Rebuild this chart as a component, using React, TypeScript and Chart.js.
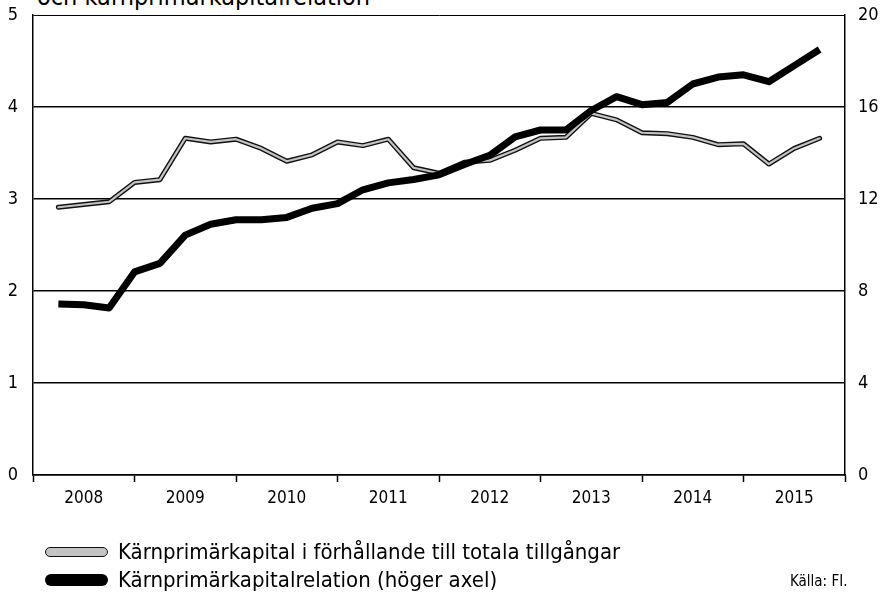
import React, { useEffect, useRef } from "react";
import { Chart, registerables } from "chart.js";

Chart.register(...registerables);

const years = ["2008", "2009", "2010", "2011", "2012", "2013", "2014", "2015"];
const leftTicks = [0, 1, 2, 3, 4, 5];
const rightTicks = [0, 4, 8, 12, 16, 20];

// Quarterly, 2008 Q1 – 2015 Q3
const leverageRatio = [
  2.91, 2.94, 2.97, 3.18, 3.21, 3.66, 3.62, 3.65, 3.55, 3.41, 3.48, 3.62, 3.58, 3.65, 3.34, 3.28,
  3.4, 3.42, 3.53, 3.66, 3.67, 3.93, 3.86, 3.72, 3.71, 3.67, 3.59, 3.6, 3.38, 3.55, 3.66,
];
const cet1Ratio = [
  7.43, 7.4, 7.26, 8.83, 9.2, 10.43, 10.9, 11.1, 11.1, 11.2, 11.6, 11.8, 12.4, 12.7, 12.85, 13.05,
  13.5, 13.9, 14.7, 15.0, 15.0, 15.85, 16.45, 16.1, 16.2, 17.0, 17.3, 17.4, 17.1, 17.8, 18.5,
];

const seriesNames = [
  "Kärnprimärkapital i förhållande till totala tillgångar",
  "Kärnprimärkapitalrelation (höger axel)",
];
const titleText = "och kärnprimärkapitalrelation";
const sourceText = "Källa: FI.";

const FONT = "'DejaVu Sans Condensed', 'Liberation Sans Narrow', 'DejaVu Sans', sans-serif";

const zeroPad = (s: any) => {
  s.paddingTop = 0;
  s.paddingBottom = 0;
  s.paddingLeft = 0;
  s.paddingRight = 0;
};

export default function App() {
  const ref = useRef<HTMLCanvasElement>(null);

  useEffect(() => {
    if (!ref.current) return;
    const toXY = (arr: number[]) => arr.map((v, i) => ({ x: i + 1, y: v }));
    const chart = new Chart(ref.current, {
      type: "line",
      data: {
        datasets: [
          {
            label: seriesNames[0] + " outline",
            data: toXY(leverageRatio),
            yAxisID: "y",
            borderColor: "#111",
            borderWidth: 5,
            pointRadius: 0,
            tension: 0,
            borderJoinStyle: "round",
            borderCapStyle: "round",
            order: 3,
          },
          {
            label: seriesNames[0],
            data: toXY(leverageRatio),
            yAxisID: "y",
            borderColor: "#c4c4c4",
            borderWidth: 2.2,
            pointRadius: 0,
            tension: 0,
            borderJoinStyle: "round",
            borderCapStyle: "round",
            order: 2,
          },
          {
            label: seriesNames[1],
            data: toXY(cet1Ratio),
            yAxisID: "y1",
            borderColor: "#000",
            borderWidth: 7,
            pointRadius: 0,
            tension: 0,
            borderJoinStyle: "round",
            borderCapStyle: "butt",
            order: 1,
          },
        ],
      },
      options: {
        responsive: false,
        animation: false,
        layout: { padding: { top: 15, left: 0, right: 0, bottom: 0 } },
        plugins: { legend: { display: false }, tooltip: { enabled: false } },
        scales: {
          x: {
            type: "linear",
            min: 0,
            max: years.length * 4,
            afterFit: (s: any) => {
              s.height = 126;
              zeroPad(s);
            },
            afterBuildTicks: (s: any) => {
              const t = [];
              for (let v = 0; v <= years.length * 4; v += 2) t.push({ value: v });
              s.ticks = t;
            },
            ticks: {
              autoSkip: false,
              maxRotation: 0,
              padding: 6,
              color: "#000",
              font: { family: FONT, size: 17 },
              callback: (v: any) => {
                const n = Number(v);
                return n % 4 === 2 ? years[(n - 2) / 4] : "";
              },
            },
            grid: {
              drawOnChartArea: false,
              tickLength: 7,
              tickWidth: 1.5,
              tickColor: (ctx: any) => (ctx.tick && ctx.tick.value % 4 === 0 ? "#000" : "rgba(0,0,0,0)"),
            },
            border: { display: true, color: "#000", width: 1.5 },
          },
          y: {
            position: "left",
            min: 0,
            max: 5,
            afterFit: (s: any) => {
              s.width = 33;
              zeroPad(s);
            },
            afterBuildTicks: (s: any) => {
              s.ticks = leftTicks.map((v) => ({ value: v }));
            },
            ticks: {
              padding: 15,
              color: "#000",
              font: { family: FONT, size: 18 },
            },
            grid: {
              color: "#000",
              lineWidth: (ctx: any) => (ctx.tick && ctx.tick.value === 5 ? 1 : 1.5),
              drawTicks: false,
            },
            border: { display: true, color: "#000", width: 1.5 },
          },
          y1: {
            position: "right",
            min: 0,
            max: 20,
            afterFit: (s: any) => {
              s.width = 42;
              zeroPad(s);
            },
            afterBuildTicks: (s: any) => {
              s.ticks = rightTicks.map((v) => ({ value: v }));
            },
            ticks: {
              padding: 13,
              color: "#000",
              font: { family: FONT, size: 18 },
            },
            grid: { drawOnChartArea: false, drawTicks: false },
            border: { display: true, color: "#000", width: 1.5 },
          },
        },
      },
    });
    return () => chart.destroy();
  }, []);

  const legendText: React.CSSProperties = {
    position: "absolute",
    left: 118,
    fontFamily: FONT,
    fontSize: 22,
    color: "#000",
    whiteSpace: "nowrap",
    lineHeight: "26px",
  };

  return (
    <div
      style={{
        position: "fixed",
        left: 0,
        top: 0,
        width: 887,
        height: 601,
        background: "#fff",
        overflow: "hidden",
      }}
    >
      <div
        style={{
          position: "absolute",
          left: 37,
          top: -17,
          fontFamily: FONT,
          fontSize: 25,
          lineHeight: "28px",
          color: "#000",
          whiteSpace: "nowrap",
        }}
      >
        {titleText}
      </div>
      <canvas ref={ref} width={887} height={601} style={{ position: "absolute", left: 0, top: 0, width: 887, height: 601 }} />
      <div
        style={{
          position: "absolute",
          left: 45,
          top: 547,
          width: 61,
          height: 8,
          borderRadius: 5,
          background: "#c4c4c4",
          border: "1.5px solid #111",
        }}
      />
      <div style={{ ...legendText, top: 539 }}>{seriesNames[0]}</div>
      <div
        style={{
          position: "absolute",
          left: 45,
          top: 574,
          width: 63,
          height: 12,
          borderRadius: 6,
          background: "#000",
        }}
      />
      <div style={{ ...legendText, top: 567 }}>{seriesNames[1]}</div>
      <div
        style={{
          position: "absolute",
          left: 790,
          top: 572,
          fontFamily: FONT,
          fontSize: 15,
          color: "#000",
          whiteSpace: "nowrap",
          lineHeight: "18px",
        }}
      >
        {sourceText}
      </div>
    </div>
  );
}
